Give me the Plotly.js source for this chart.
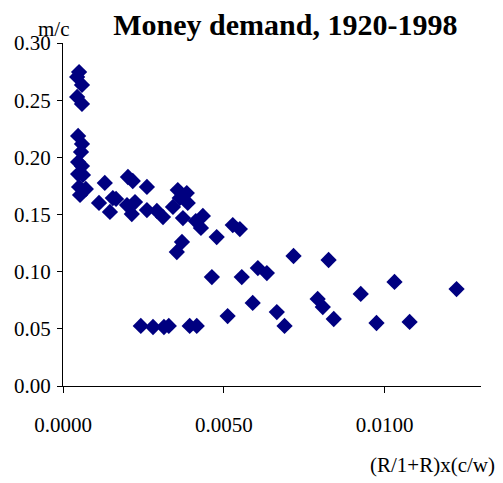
<!DOCTYPE html>
<html>
<head>
<meta charset="utf-8">
<script src="https://cdn.plot.ly/plotly-3.0.1.min.js"></script>
<style>html,body{margin:0;padding:0;background:#fff;}#chart{width:503px;height:483px;}</style>
</head>
<body>
<div id="chart"></div>
<script>
// (R/1+R)x(c/w)
const xVals = [0.00050,0.00044,0.00059,0.00044,0.00059,0.00047,0.00059,0.00056,0.00047,0.00059,
  0.00047,0.00062,0.00050,0.00071,0.00053,0.00130,0.00112,0.00155,0.00146,0.00165,
  0.00202,0.00217,0.00261,0.00199,0.00214,0.00224,0.00261,0.00292,0.00311,0.00342,
  0.00357,0.00385,0.00363,0.00388,0.00373,0.00354,0.00370,0.00413,0.00435,0.00429,
  0.00478,0.00528,0.00550,0.00463,0.00556,0.00512,0.00242,0.00280,0.00314,0.00329,
  0.00394,0.00416,0.00717,0.00826,0.00606,0.00634,0.00590,0.00665,0.00689,0.00792,
  0.00808,0.00842,0.00926,0.01031,0.00975,0.01078,0.01224];
// m/c
const yVals = [0.2746,0.2703,0.2633,0.2528,0.2467,0.2187,0.2117,0.2047,0.1959,0.1924,
  0.1854,0.1846,0.1741,0.1723,0.1671,0.1776,0.1601,0.1644,0.1522,0.1636,
  0.1828,0.1793,0.1741,0.1583,0.1504,0.1609,0.1539,0.1531,0.1478,0.1566,
  0.1714,0.1688,0.1644,0.1601,0.1469,0.1172,0.1260,0.1443,0.1487,0.1382,
  0.1303,0.1408,0.1373,0.0953,0.0953,0.0612,0.0525,0.0516,0.0516,0.0525,
  0.0525,0.0525,0.1137,0.1102,0.1032,0.0988,0.0726,0.0647,0.0525,0.0761,
  0.0691,0.0586,0.0805,0.0910,0.0551,0.0560,0.0848];

const chartTitle = 'Money demand, 1920-1998';
const yLabel = 'm/c';
const xLabel = '(R/1+R)x(c/w)';

const serif = 'Liberation Serif, Times New Roman, serif';

Plotly.newPlot('chart', [{
  type: 'scatter', mode: 'markers', x: xVals, y: yVals,
  marker: {symbol: 'diamond', size: 12.5, color: '#000080', line: {width: 0}},
  cliponaxis: false, hoverinfo: 'none'
}], {
  width: 503, height: 483,
  paper_bgcolor: '#fff', plot_bgcolor: '#fff',
  margin: {l: 63, r: 22, t: 43, b: 97},
  showlegend: false,
  title: {text: '<b>' + chartTitle + '</b>', font: {family: serif, size: 30, color: '#000'},
    x: 0.532, xref: 'paper', xanchor: 'center', y: 1 - 24/483, yref: 'container', yanchor: 'middle'},
  xaxis: {range: [0, 0.013], tick0: 0, dtick: 0.005, tickformat: '.4f',
    showgrid: false, zeroline: false, showline: true, linecolor: '#000', linewidth: 1,
    ticks: 'outside', ticklen: 6, tickcolor: '#000', tickwidth: 1, ticklabelstandoff: 14,
    tickfont: {family: serif, size: 21, color: '#000'}},
  yaxis: {range: [0, 0.3], tick0: 0, dtick: 0.05, tickformat: '.2f',
    showgrid: false, zeroline: false, showline: true, linecolor: '#000', linewidth: 1,
    ticks: 'outside', ticklen: 5, tickcolor: '#000', tickwidth: 1, ticklabelstandoff: 2,
    tickfont: {family: serif, size: 21, color: '#000'}},
  annotations: [
    {text: yLabel, xref: 'paper', yref: 'paper', x: (54-63)/418, y: 1 + (43-29)/343,
     xanchor: 'center', yanchor: 'middle', showarrow: false, font: {family: serif, size: 21, color: '#000'}},
    {text: xLabel, xref: 'paper', yref: 'paper', x: (497-63)/418, y: -(465-386)/343,
     xanchor: 'right', yanchor: 'middle', showarrow: false, font: {family: serif, size: 21, color: '#000'}}
  ]
}, {staticPlot: true});
</script>
</body>
</html>
